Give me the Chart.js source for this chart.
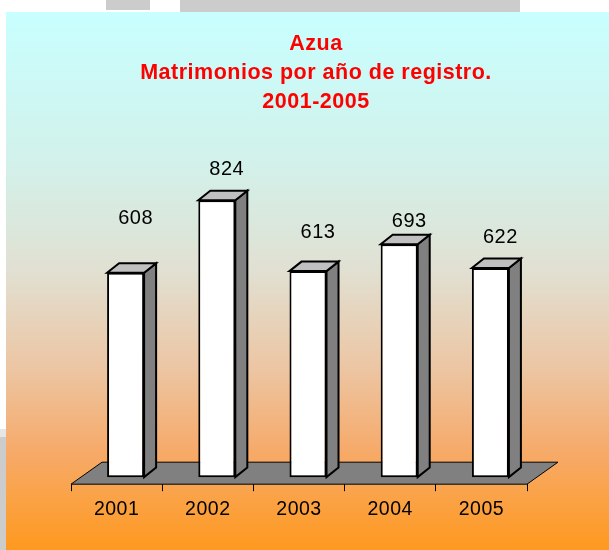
<!doctype html>
<head>
<meta charset="utf-8">
<style>
* {
    box-sizing: border-box;
    margin: 0;
    padding: 0;
}
body {
    width: 609px;
    height: 550px;
    background: #fff;
    position: relative;
    overflow: hidden;
}
.smudge {
    position: absolute;
    background: #cccccc;
}
#frame {
    position: absolute;
    left: 6px;
    top: 12px;
    width: 603px;
    height: 538px;
    background: linear-gradient(to bottom, #c8ffff 0%, #d2f1ea 28%, #e1e0d2 48%, #ecc6a4 66%, #f6ab6c 81%, #ff991f 100%);
}
</style>
</head>
<div class="smudge" style="left:106px;top:0;width:44px;height:10px"></div>
<div class="smudge" style="left:180px;top:0;width:340px;height:12px"></div>
<div class="smudge" style="left:0;top:429px;width:6px;height:8px;background:#e6e6e6"></div>
<div class="smudge" style="left:0;top:437px;width:6px;height:113px"></div>
<div id="frame"><canvas></canvas></div>
<script src="https://cdn.jsdelivr.net/npm/chart.js"></script>
<script>

let years = ['2001', '2002', '2003', '2004', '2005']
let marriages = [608, 824, 613, 693, 622]
let titleLines = ['Azua', 'Matrimonios por año de registro.', '2001-2005']
// value labels were moved by hand in the original, px above the bar top
let labelLift = [54, 31, 39, 23, 31]

let barDepth = { dx: 12, dy: 9.5 }
let floorDepth = { dx: 31, dy: 22 }
let barShift = 9   // bars stand a little behind the front edge of the floor

let box3d = {
    id: 'box3d',
    beforeDraw(chart) {
        chart.ctx.letterSpacing = '0.5px'
    },
    afterDraw(chart) {
        chart.ctx.letterSpacing = '0px'
    },
    beforeDatasetsDraw(chart) {
        let ctx = chart.ctx
        let a = chart.chartArea

        ctx.save()
        ctx.fillStyle = '#808080'
        ctx.strokeStyle = '#000'
        ctx.lineWidth = 1
        ctx.beginPath()
        ctx.moveTo(a.left, a.bottom)
        ctx.lineTo(a.right, a.bottom)
        ctx.lineTo(a.right + floorDepth.dx, a.bottom - floorDepth.dy)
        ctx.lineTo(a.left + floorDepth.dx, a.bottom - floorDepth.dy)
        ctx.closePath()
        ctx.fill()
        ctx.stroke()
        ctx.restore()

        ctx.save()
        ctx.translate(barShift, 0)
        ctx.lineWidth = 2
        ctx.strokeStyle = '#000'
        let dx = barDepth.dx, dy = barDepth.dy
        chart.getDatasetMeta(0).data.forEach(bar => {
            let { x, y, base, width } = bar.getProps(['x', 'y', 'base', 'width'], true)
            let l = x - width / 2
            let r = x + width / 2
            // side
            ctx.fillStyle = '#808080'
            ctx.beginPath()
            ctx.moveTo(r, y)
            ctx.lineTo(r + dx, y - dy)
            ctx.lineTo(r + dx, base - dy)
            ctx.lineTo(r, base)
            ctx.closePath()
            ctx.fill()
            ctx.stroke()
            // top
            ctx.fillStyle = '#c0c0c0'
            ctx.beginPath()
            ctx.moveTo(l, y)
            ctx.lineTo(l + dx, y - dy)
            ctx.lineTo(r + dx, y - dy)
            ctx.lineTo(r, y)
            ctx.closePath()
            ctx.fill()
            ctx.stroke()
        })
    },
    afterDatasetsDraw(chart) {
        let ctx = chart.ctx
        // labels, still in the shifted frame
        ctx.font = '20px "Liberation Sans", Arial, sans-serif'
        ctx.fillStyle = '#000'
        ctx.textAlign = 'center'
        ctx.textBaseline = 'middle'
        chart.getDatasetMeta(0).data.forEach((bar, i) => {
            let { x, y } = bar.getProps(['x', 'y'], true)
            ctx.fillText(marriages[i], x + 10, y - labelLift[i])
        })
        ctx.restore()
    },
}

let chart = new Chart(document.querySelector('canvas'), {
    type: 'bar',
    data: {
        labels: years,
        datasets: [
            {
                data: marriages,
                backgroundColor: '#ffffff',
                borderColor: '#000000',
                borderWidth: 2,
                borderSkipped: false,
                barPercentage: 0.406,
                categoryPercentage: 1,
            },
        ],
    },
    options: {
        animation: false,
        responsive: true,
        maintainAspectRatio: false,
        layout: {
            padding: { left: 65, right: 48, top: 0, bottom: 22 },
        },
        scales: {
            x: {
                grid: {
                    display: true,
                    drawOnChartArea: false,
                    tickLength: 7,
                    color: '#000',
                },
                border: { display: false },
                ticks: {
                    color: '#000',
                    padding: 7,
                    maxRotation: 0,
                    autoSkip: false,
                    font: { family: '"Liberation Sans", Arial, sans-serif', size: 19.5, lineHeight: 1.17 },
                },
            },
            y: {
                position: 'right',
                min: -21,
                max: 1000,
                grid: { display: false },
                border: { display: false },
                ticks: { display: false },
                afterFit(scale) {
                    scale.width = 34
                },
            },
        },
        plugins: {
            legend: { display: false },
            tooltip: { enabled: false },
            title: {
                display: true,
                text: titleLines,
                color: '#ff0000',
                font: {
                    family: '"Liberation Sans", Arial, sans-serif',
                    size: 21.5,
                    weight: 'bold',
                    lineHeight: 1.34,
                },
                padding: { top: 17.6, bottom: 25 },
            },
        },
    },
    plugins: [box3d],
})

</script>
